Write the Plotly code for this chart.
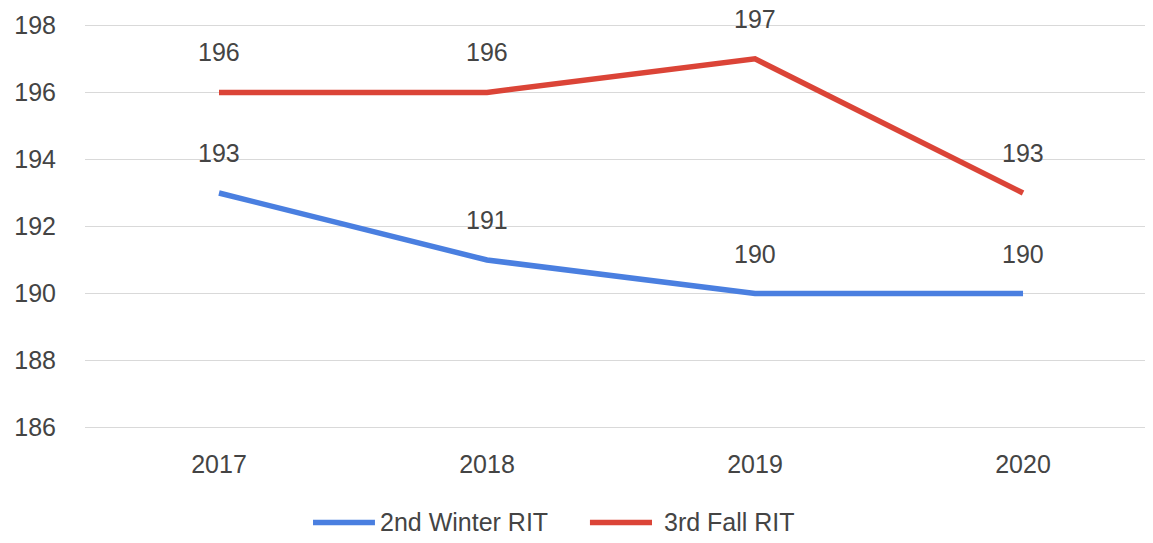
import plotly.graph_objects as go

years = ["2017", "2018", "2019", "2020"]
winter_2nd = [193, 191, 190, 190]
fall_3rd = [196, 196, 197, 193]
y_ticks = [186, 188, 190, 192, 194, 196, 198]
series_names = ["2nd Winter RIT", "3rd Fall RIT"]

BLUE = "#4a7fe0"
RED = "#db4437"
FONT = "Liberation Sans, Arial, sans-serif"
TXT = "#444444"

fig = go.Figure()
fig.add_trace(go.Scatter(x=years, y=winter_2nd, mode="lines", name=series_names[0],
                         line=dict(color=BLUE, width=5.5)))
fig.add_trace(go.Scatter(x=years, y=fall_3rd, mode="lines", name=series_names[1],
                         line=dict(color=RED, width=5.5)))

# data labels above each point
for series in (winter_2nd, fall_3rd):
    for i, v in enumerate(series):
        fig.add_annotation(x=i, y=v, xref="x", yref="y", text=str(v), showarrow=False,
                           yshift=40, font=dict(family=FONT, size=25, color=TXT))

# custom legend (wider line swatches, as in the reference)
leg_y = -0.2237
legend_items = [
    (series_names[0], BLUE, 0.2135, 0.2715, 0.2743),
    (series_names[1], RED, 0.4728, 0.5309, 0.5403),
]
for name, col, x0, x1, xt in legend_items:
    fig.add_shape(type="line", xref="paper", yref="paper", x0=x0, x1=x1, y0=leg_y, y1=leg_y,
                  line=dict(color=col, width=5.5))
    fig.add_annotation(xref="paper", yref="paper", x=xt, y=leg_y, xanchor="left",
                       yanchor="middle", text=name, showarrow=False,
                       font=dict(family=FONT, size=25, color=TXT))

fig.update_layout(
    width=1145, height=535,
    margin=dict(l=77, r=0, t=14, b=112),
    paper_bgcolor="white", plot_bgcolor="white",
    font=dict(family=FONT, size=25, color=TXT),
    showlegend=False,
)
fig.update_xaxes(type="category", range=[-0.5, 3.485], showgrid=False, zeroline=False,
                 showline=False, ticks="", ticklabelstandoff=16)
fig.update_yaxes(range=[185.9, 198.1], tickvals=y_ticks, showgrid=True, gridcolor="#d9d9d9",
                 gridwidth=1, zeroline=False, showline=False, ticks="",
                 ticklabelstandoff=28)

fig.write_html("out.html")
